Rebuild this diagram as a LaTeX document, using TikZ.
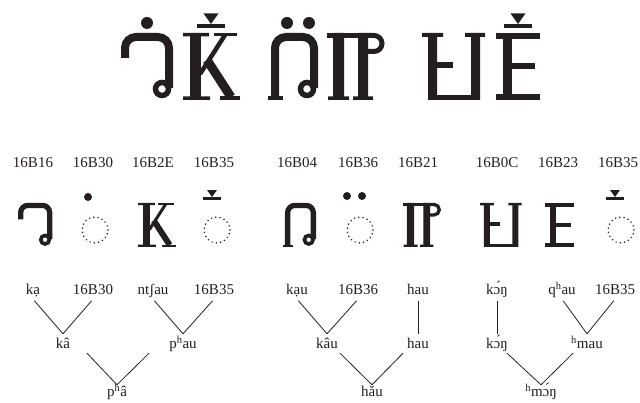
\documentclass[tikz,border=0pt]{standalone}
\usepackage{fontspec}
\setmainfont{Liberation Serif}
\usetikzlibrary{calc}
\definecolor{hmink}{HTML}{231F20}

\tikzset{
  hexlab/.style={anchor=base,inner sep=1pt,font=\fontsize{15}{18}\selectfont},
  word/.style={anchor=base,inner sep=1pt,text height=14pt,text depth=3pt,font=\fontsize{15}{18}\selectfont},
  rootword/.style={word,text height=11pt},
  branch/.style={line width=0.8pt,shorten <=#1},
  branch/.default=2pt,
  carrier/.style={line width=1.7pt,line cap=round,dash pattern=on 0pt off 4.3pt},
  % glyph shapes, drawn in top-row units (height 67), #1 = weight factor
  pics/hmka/.style={code={
    \draw[line width=#1*8pt] (4,42) -- (4,52) arc[start angle=180,end angle=90,radius=11]
      -- (37,63) arc[start angle=90,end angle=0,radius=11] -- (48,12);
    \draw[line width=#1*5.5pt] (41,11) circle[radius=6.5];
  }},
  pics/hmkk/.style={code={
    \fill (7,0) rectangle (18,67);
    \fill (0,63.5) rectangle (26,67) (0,0) rectangle (27,3.5);
    \draw[line width=#1*4.5pt] (17,26) -- (42,65);
    \fill (31,63.5) rectangle (54,67);
    \draw[line width=#1*9pt] (24,40) -- (48,3);
    \fill (37,0) rectangle (57,3.5);
  }},
  pics/hmau/.style={code={
    \draw[line width=#1*8pt] (7,0) -- (7,52) arc[start angle=180,end angle=90,radius=11]
      -- (35,63) arc[start angle=90,end angle=0,radius=11] -- (46,12);
    \draw[line width=#1*5.5pt] (39,11) circle[radius=6.5];
    \fill (0,0) rectangle (15,3.5);
  }},
  pics/hmpau/.style={code={
    \fill (0,61.5) rectangle (42,67);
    \fill (6,0) rectangle (17,67) (1,0) rectangle (22,3.5);
    \fill (31,0) rectangle (41,67) (26,0) rectangle (46,3.5);
    \draw[line width=#1*5pt] (40,64.5) -- (47,64.5) arc[start angle=90,end angle=-90,radius=8] -- (40,48.5);
  }},
  pics/hmmo/.style={code={
    \fill (6,0) rectangle (15,67) (0,63) rectangle (21,67);
    \fill (15,32) rectangle (31,38);
    \fill (6,0) rectangle (58,5);
    \fill (49,0) rectangle (58,67) (43,63) rectangle (63,67);
  }},
  pics/hmee/.style={code={
    \fill (7,0) rectangle (16,67);
    \fill (0,61) rectangle (44,67);
    \fill (7,31) rectangle (39,37);
    \fill (0,0) rectangle (44,6);
  }},
  pics/hmmark/.style={code={
    \fill (-14,0) rectangle (14,4.5);
    \fill (-7.5,15) -- (7.5,15) -- (0,4.5) -- cycle;
  }}
}

\begin{document}
\begin{tikzpicture}[x=1pt,y=1pt,color=hmink]
  \useasboundingbox (0,0) rectangle (640,403);
  % top row: the three written words
  \pic at (121,303) {hmka=1};
  \fill (147,380) circle[radius=6];
  \pic at (183,303) {hmkk=1};
  \pic at (211,374.5) {hmmark};
  \pic at (268,303) {hmau=1};
  \fill (287,380) circle[radius=6] (309,380) circle[radius=6];
  \pic at (327,303) {hmpau=1};
  \pic at (422,303) {hmmo=1};
  \pic at (496,303) {hmee=1};
  \pic at (518,374.5) {hmmark};

  % code points
  \foreach \x/\c [count=\i] in {33/16B16,93/16B30,153/16B2E,214/16B35,297/16B04,358/16B36,418/16B21,497/16B0C,558/16B23,618/16B35}
    \node[hexlab] (hex\i) at (\x,235) {\c};

  % middle row: the single characters
  \pic[scale=.66] at (18,156) {hmka=.66};
  \fill (88,206) circle[radius=4];
  \draw[carrier] (95,173) circle[radius=13];
  \pic[scale=.66] at (138,156) {hmkk=.66};
  \pic[scale=.66] at (212,203) {hmmark};
  \draw[carrier] (217,173) circle[radius=13];
  \pic[scale=.66] at (283,156) {hmau=.66};
  \fill (347,207) circle[radius=4] (362,207) circle[radius=4];
  \draw[carrier] (360,173) circle[radius=13];
  \pic[scale=.66] at (403,156) {hmpau=.66};
  \pic[scale=.66] at (480,156) {hmmo=.66};
  \pic[scale=.66] at (545,156) {hmee=.66};
  \pic[scale=.66] at (615,203) {hmmark};
  \draw[carrier] (621,173) circle[radius=13];

  % first tree
  \node[word] (ka1) at (33,108) {kạ};
  \node[word] (b30) at (93,108) {16B30};
  \node[word] (ntsau) at (153,108) {ntʃau};
  \node[word] (b35a) at (214,108) {16B35};
  \node[word] (ka2) at (63,54) {kâ};
  \node[word] (phau) at (183,54) {p\textsuperscript{h}au};
  \node[rootword] (pha) at (117,6) {p\textsuperscript{h}â};
  \draw[branch] (ka1.south) -- (ka2.north);
  \draw[branch] (b30.south) -- (ka2.north);
  \draw[branch] (ntsau.south) -- (phau.north);
  \draw[branch] (b35a.south) -- (phau.north);
  \draw[branch=0pt] ([xshift=24pt]ka2.south) -- (pha.north);
  \draw[branch=0pt] ([xshift=-34pt]phau.south) -- (pha.north);

  % second tree
  \node[word] (kau1) at (297,108) {kạu};
  \node[word] (b36) at (358,108) {16B36};
  \node[word] (hau1) at (418,108) {hau};
  \node[word] (kau2) at (327,54) {kâu};
  \node[word] (hau2) at (418,54) {hau};
  \node[rootword] (hau3) at (372,6) {hǎu};
  \draw[branch] (kau1.south) -- (kau2.north);
  \draw[branch] (b36.south) -- (kau2.north);
  \draw[branch] (hau1.south) -- (hau2.north);
  \draw[branch=0pt] ([xshift=13pt]kau2.south) -- (hau3.north);
  \draw[branch=0pt] ([xshift=-15pt]hau2.south) -- (hau3.north);

  % third tree
  \node[word] (kong1) at (497,108) {kɔ́ŋ};
  \node[word] (qhau) at (562,108) {q\textsuperscript{h}au};
  \node[word] (b35b) at (615,108) {16B35};
  \node[word] (kong2) at (497,54) {kɔ́ŋ};
  \node[word] (hmau) at (587,54) {\textsuperscript{h}mau};
  \node[rootword] (hmong) at (541,6) {\textsuperscript{h}mɔ́ŋ};
  \draw[branch] (kong1.south) -- (kong2.north);
  \draw[branch] (qhau.south) -- (hmau.north);
  \draw[branch] (b35b.south) -- (hmau.north);
  \draw[branch=0pt] ([xshift=10pt]kong2.south) -- (hmong.north);
  \draw[branch=0pt] ([xshift=-14pt]hmau.south) -- (hmong.north);
\end{tikzpicture}
\end{document}
